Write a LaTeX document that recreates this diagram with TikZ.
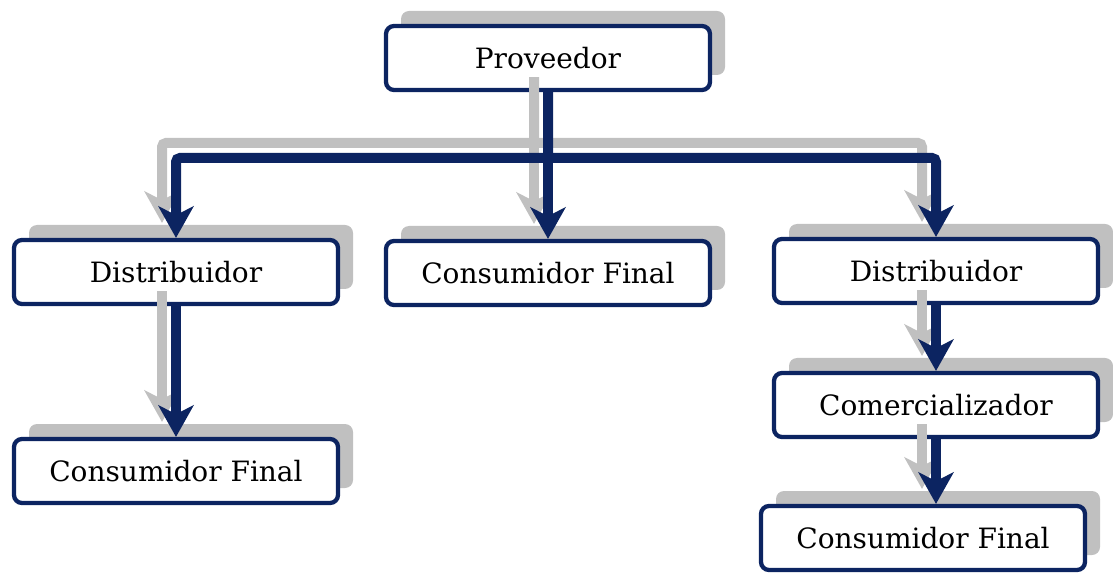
\documentclass[tikz,border=0pt]{standalone}
\usepackage{fontspec}
\setmainfont{DejaVu Serif}
\usetikzlibrary{arrows.meta,shadows}
\definecolor{navy}{HTML}{0C2461}
\definecolor{shadowgray}{RGB}{192,192,192}
\tikzset{
  box/.style={draw=navy, line width=3.2pt, rounded corners=6pt, fill=white,
    minimum width=243pt, minimum height=48pt, inner sep=0pt,
    font=\fontsize{21}{24}\selectfont,
    drop shadow={shadow xshift=11.25pt, shadow yshift=11.25pt, fill=shadowgray, opacity=1}},
  conn/.style={draw=navy, line width=7.5pt, rounded corners=3pt,
    -{Stealth[length=24pt,width=27pt,inset=7pt,line width=0pt]}},
  connshadow/.style={draw=shadowgray, line width=7.5pt, rounded corners=3pt,
    -{Stealth[length=24pt,width=27pt,inset=7pt,line width=0pt]}},
  shadowlayer/.style={transform canvas={xshift=-10.5pt, yshift=11.25pt}}
}
\begin{document}
\begin{tikzpicture}[x=0.75pt,y=-0.75pt]
\useasboundingbox (0,0) rectangle (1113,573);
\node[box] (prov)   at (548,58)  {Proveedor};
\node[box] (distL)  at (176,272) {Distribuidor};
\node[box] (consM)  at (548,273) {Consumidor Final};
\node[box] (distR)  at (936,271) {Distribuidor};
\node[box] (comerc) at (936,405) {Comercializador};
\node[box] (consL)  at (176,471) {Consumidor Final};
\node[box] (consR)  at (923,538) {Consumidor Final};
\coordinate (j) at (548,158);
% connector shadows
\begin{scope}[shadowlayer]
\draw[connshadow] (prov.south) -- (j) -| (distL.north);
\draw[connshadow] (j) -| (distR.north);
\draw[connshadow] (prov.south) -- (consM.north);
\draw[connshadow] (distL.south) -- (consL.north);
\draw[connshadow] (distR.south) -- (comerc.north);
\draw[connshadow] (comerc.south) -- (comerc.south |- consR.north);
\end{scope}
% connectors
\draw[conn] (prov.south) -- (j) -| (distL.north);
\draw[conn] (j) -| (distR.north);
\draw[conn] (prov.south) -- (consM.north);
\draw[conn] (distL.south) -- (consL.north);
\draw[conn] (distR.south) -- (comerc.north);
\draw[conn] (comerc.south) -- (comerc.south |- consR.north);
\end{tikzpicture}
\end{document}
